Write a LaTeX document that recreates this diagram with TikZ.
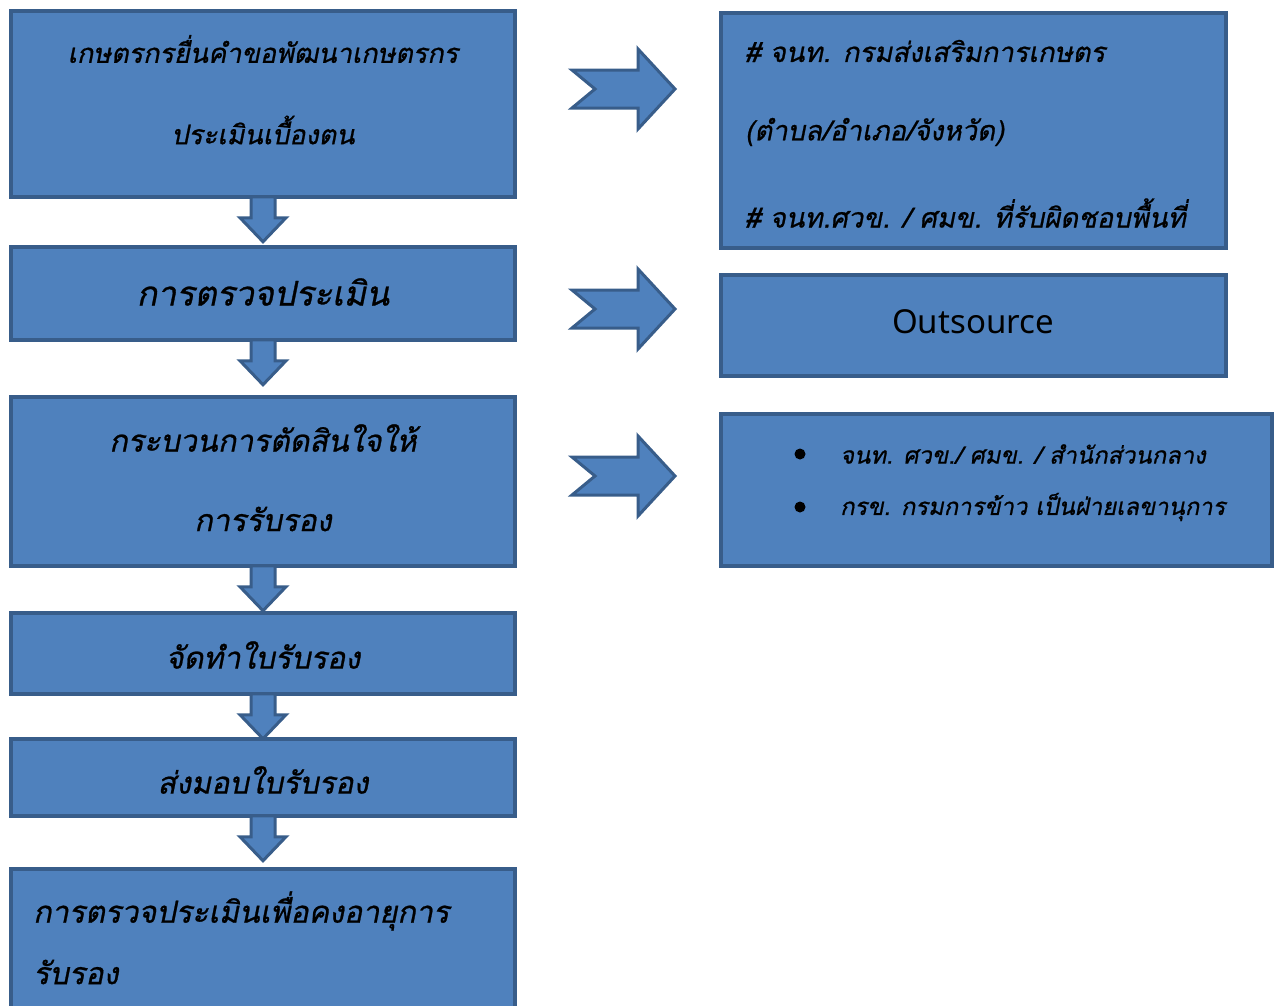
\documentclass[tikz,border=0pt]{standalone}
\usepackage{fontspec}
\newfontfamily\thai[Script=Thai,FakeSlant=0.2,FakeBold=0.8]{Loma}
\newfontfamily\latinf{Noto Sans}
\usetikzlibrary{calc}
\definecolor{boxfill}{HTML}{4F81BD}
\definecolor{boxline}{HTML}{385D8A}
\newcommand{\darrow}[2]{%
 \draw[arr] ($(#1.south)+(-12,-2)$) -- ($(#1.south)+(-12,19)$) -- ($(#1.south)+(-23,19)$)
   -- ($(#1.south)+(0,43)$) coordinate (#2) -- ($(#1.south)+(23,19)$) -- ($(#1.south)+(12,19)$)
   -- ($(#1.south)+(12,-2)$) -- cycle;}
\newcommand{\chev}[2]{%
 \coordinate (#1) at (572,#2);
 \draw[arr] ($(#1)+(0,-19)$) -- ($(#1)+(66,-19)$) -- ($(#1)+(66,-40)$) -- ($(#1)+(103,0)$)
   -- ($(#1)+(66,40)$) -- ($(#1)+(66,19)$) -- ($(#1)+(0,19)$) -- ($(#1)+(23,0)$) -- cycle;}
\begin{document}
\begin{tikzpicture}[x=1pt,y=-1pt,
 box/.style={draw=boxline,fill=boxfill,line width=3.5pt,inner sep=0pt},
 lbl/.style={font=\thai\fontsize{30.5}{34}\selectfont,text=black,inner sep=0pt},
 top/.style={font=\thai\fontsize{27}{30}\selectfont,text=black,inner sep=0pt},
 big/.style={font=\thai\fontsize{34}{38}\selectfont,text=black,inner sep=0pt},
 rt/.style={font=\thai\fontsize{27.5}{30}\selectfont,text=black,inner sep=0pt},
 small/.style={font=\thai\fontsize{23.8}{26}\selectfont,text=black,inner sep=0pt},
 arr/.style={draw=boxline,fill=boxfill,line width=3pt,line join=miter},
 dot/.style={circle,fill=black,inner sep=0pt,minimum size=11}]
\useasboundingbox (0,0) rectangle (1280,1005);
\clip (0,0) rectangle (1280,1005);
% left column
\node[box,minimum width=504,minimum height=186] (b1) at (263,104) {};
\node[box,minimum width=504,minimum height=93] (b2) at (263,293.5) {};
\node[box,minimum width=504,minimum height=169] (b3) at (263,481.5) {};
\node[box,minimum width=504,minimum height=81] (b4) at (263,653.5) {};
\node[box,minimum width=504,minimum height=77] (b5) at (263,777.5) {};
\node[box,minimum width=504,minimum height=162] (b6) at (263,950) {};
\darrow{b1}{a1}
\darrow{b2}{a2}
\darrow{b3}{a3}
\darrow{b4}{a4}
\darrow{b5}{a5}
\node[top] (t1a) at (263,49) {เกษตรกรยื่นคำขอพัฒนาเกษตรกร};
\node[top] (t1b) at (263,130) {ประเมินเบื้องตน};
\node[big] (t2) at (263,292) {การตรวจประเมิน};
\node[lbl] (t3a) at (263,438) {กระบวนการตัดสินใจให้};
\node[lbl] (t3b) at (263,519) {การรับรอง};
\node[lbl] (t4) at (263,655) {จัดทำใบรับรอง};
\node[lbl] (t5) at (263,780) {ส่งมอบใบรับรอง};
\node[lbl,anchor=west] (t6a) at (33,911) {การตรวจประเมินเพื่อคงอายุการ};
\node[lbl,anchor=west] (t6b) at (33,972) {รับรอง};
% chevrons
\chev{c1}{89}
\chev{c2}{309}
\chev{c3}{476}
% right column
\node[box,minimum width=505,minimum height=235] (r1) at (973.5,130.5) {};
\node[box,minimum width=505,minimum height=101] (r2) at (973.5,325.5) {};
\node[box,minimum width=551,minimum height=152] (r3) at (996.5,490) {};
\node[rt,anchor=west] (s1) at (745,51) {\# จนท. กรมส่งเสริมการเกษตร};
\node[rt,anchor=west] (s2) at (745,132) {(ตำบล/อำเภอ/จังหวัด)};
\node[rt,anchor=west] (s3) at (745,213) {\# จนท.ศวข. / ศมข. ที่รับผิดชอบพื้นที่};
\node[font=\latinf\fontsize{33}{36}\selectfont,inner sep=0pt] (o1) at (973,322) {Outsource};
\node[dot] (d1) at (800,454) {};
\node[dot] (d2) at (800,507) {};
\node[small,anchor=west] (u1) at (840,454) {จนท. ศวข./ ศมข. / สำนักส่วนกลาง};
\node[small,anchor=west] (u2) at (840,507) {กรข. กรมการข้าว เป็นฝ่ายเลขานุการ};
\end{tikzpicture}
\end{document}
